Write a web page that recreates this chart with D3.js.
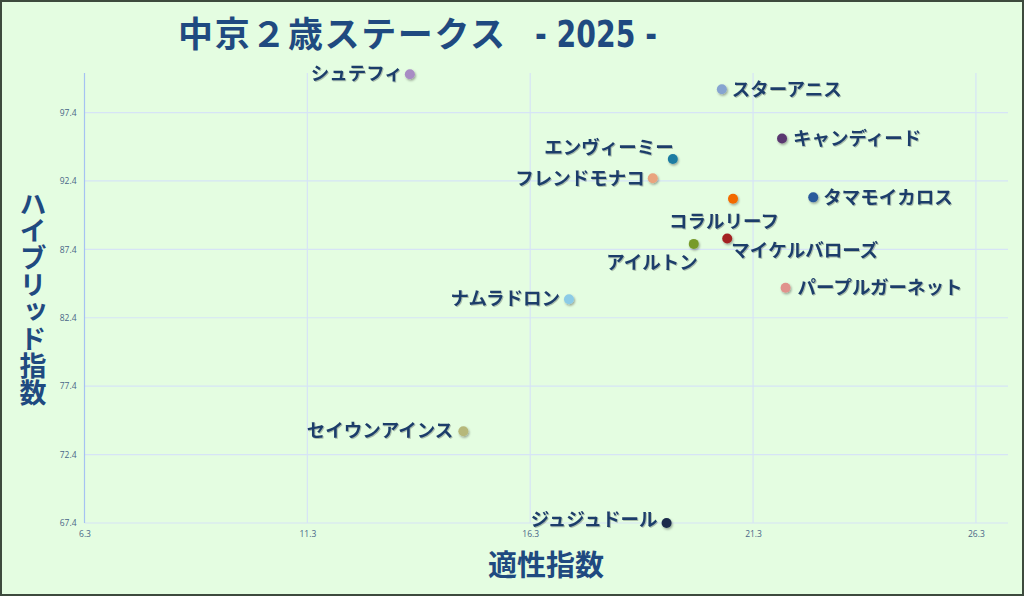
<!DOCTYPE html>
<html>
<head>
<meta charset="utf-8">
<script src="https://cdn.jsdelivr.net/npm/d3@7"></script>
<style>
  html, body { margin: 0; padding: 0; background: #e4fde1; }
  svg { display: block; }
</style>
</head>
<body>
<div id="chart"></div>
<script>
// Horse names, fitness index (x) and hybrid index (y)
var horses = ["シュテフィ", "スターアニス", "キャンディード", "エンヴィーミー", "フレンドモナコ",
  "コラルリーフ", "タマモイカロス", "マイケルバローズ", "アイルトン", "パープルガーネット",
  "ナムラドロン", "セイウンアインス", "ジュジュドール"];
var fitness = [13.6, 20.6, 21.95, 19.5, 19.05, 20.85, 22.65, 20.72, 19.97, 22.03, 17.17, 14.8, 19.36];
var hybrid = [100.2, 99.1, 95.5, 94.0, 92.6, 91.1, 91.2, 88.2, 87.8, 84.6, 83.75, 74.1, 67.4];
var xTicks = [6.3, 11.3, 16.3, 21.3, 26.3];
var yTicks = [67.4, 72.4, 77.4, 82.4, 87.4, 92.4, 97.4];

// label placement next to each dot: [anchor, dx, dy]
var labelPlace = [["end", -7, -1], ["start", 10, 0], ["start", 11, 0], ["end", 1, -12], ["end", -8, 0],
  ["middle", -9, 23], ["start", 10, 0], ["start", 4, 12], ["end", 4, 18], ["start", 12, 0],
  ["end", -9, -1], ["end", -10, -1], ["end", -9, -4]];
var colors = ["#a88cc4", "#86a4d0", "#5a3770", "#1e7ca2", "#e9a47e",
  "#f26a00", "#2b5a9c", "#a32222", "#789a2c", "#e0928c",
  "#8ccbe6", "#b6b87a", "#1b2c4c"];

var svgWidth = 1024;
var svgHeight = 596;
var margin = { top: 73, right: 16, bottom: 73, left: 84.5 };
var width = svgWidth - margin.left - margin.right;
var height = svgHeight - margin.top - margin.bottom;

var svg = d3.select("#chart")
  .append("svg")
  .attr("width", svgWidth)
  .attr("height", svgHeight);

var defs = svg.append("defs");
var shadow = defs.append("filter").attr("id", "shadow")
  .attr("x", "-50%").attr("y", "-50%").attr("width", "200%").attr("height", "200%");
shadow.append("feDropShadow")
  .attr("dx", 1).attr("dy", 1.5).attr("stdDeviation", 1.2)
  .attr("flood-color", "#000").attr("flood-opacity", 0.35);
var tshadow = defs.append("filter").attr("id", "tshadow");
tshadow.append("feDropShadow")
  .attr("dx", 1).attr("dy", 1).attr("stdDeviation", 0.6)
  .attr("flood-color", "#000").attr("flood-opacity", 0.25);

// background and frame
svg.append("rect")
  .attr("x", 1).attr("y", 1)
  .attr("width", svgWidth - 2).attr("height", svgHeight - 2)
  .attr("fill", "#e4fde1")
  .attr("stroke", "#3d4a3d")
  .attr("stroke-width", 2);

var chartGroup = svg.append("g")
  .attr("transform", `translate(${margin.left}, ${margin.top})`);

var xScale = d3.scaleLinear()
  .domain([6.3, 27.02])
  .range([0, width]);

var yScale = d3.scaleLinear()
  .domain([67.4, 100.29])
  .range([height, 0]);

// grid lines
chartGroup.append("g")
  .selectAll("line")
  .data(yTicks)
  .enter()
  .append("line")
  .attr("x1", 0).attr("x2", width)
  .attr("y1", d => yScale(d)).attr("y2", d => yScale(d))
  .attr("stroke", "#d6e4f6")
  .attr("stroke-width", 1.2);

chartGroup.append("g")
  .selectAll("line")
  .data(xTicks.slice(1))
  .enter()
  .append("line")
  .attr("x1", d => xScale(d)).attr("x2", d => xScale(d))
  .attr("y1", 0).attr("y2", height)
  .attr("stroke", "#d6e4f6")
  .attr("stroke-width", 1.2);

// axes
var bottomAxis = d3.axisBottom(xScale).tickValues(xTicks).tickSize(0).tickFormat(d3.format(".1f"));
var leftAxis = d3.axisLeft(yScale).tickValues(yTicks).tickSize(0).tickFormat(d3.format(".1f"));

var gx = chartGroup.append("g")
  .attr("transform", `translate(0, ${height})`)
  .call(bottomAxis);
gx.select(".domain").remove();
gx.selectAll("text")
  .attr("dy", "1.35em")
  .style("font-family", "'Open Sans', sans-serif")
  .style("font-size", "8.5px")
  .style("fill", "#4a6688");

var gy = chartGroup.append("g")
  .call(leftAxis);
gy.select(".domain").remove();
gy.selectAll("text")
  .attr("x", -8)
  .style("font-family", "'Open Sans', sans-serif")
  .style("font-size", "8.5px")
  .style("fill", "#4a6688");

chartGroup.append("line")
  .attr("x1", 0).attr("x2", 0)
  .attr("y1", 0).attr("y2", height)
  .attr("stroke", "#a6c2f2")
  .attr("stroke-width", 1.2);

// points
var rows = horses.map((name, i) => ({
  name: name, x: fitness[i], y: hybrid[i], place: labelPlace[i], color: colors[i]
}));

chartGroup.selectAll("circle")
  .data(rows)
  .enter()
  .append("circle")
  .attr("cx", d => xScale(d.x))
  .attr("cy", d => yScale(d.y))
  .attr("r", 5)
  .attr("fill", d => d.color)
  .attr("filter", "url(#shadow)");

// labels
chartGroup.selectAll(".lbl")
  .data(rows)
  .enter()
  .append("text")
  .attr("class", "lbl")
  .attr("x", d => xScale(d.x) + d.place[1])
  .attr("y", d => yScale(d.y) + d.place[2])
  .attr("dy", "0.36em")
  .attr("text-anchor", d => d.place[0])
  .style("font-family", "'Noto Sans CJK JP', sans-serif")
  .style("font-weight", "bold")
  .style("font-size", "18.5px")
  .style("fill", "#1f3e6b")
  .attr("filter", "url(#tshadow)")
  .text(d => d.name);

// title
svg.append("text")
  .attr("x", 178)
  .attr("y", 47)
  .attr("textLength", 327)
  .attr("lengthAdjust", "spacing")
  .style("font-family", "'Noto Sans CJK JP', sans-serif")
  .style("font-weight", "bold")
  .style("font-size", "35px")
  .style("fill", "#1f4a80")
  .text("中京２歳ステークス");

svg.append("text")
  .attr("x", 535)
  .attr("y", 47)
  .attr("textLength", 122)
  .attr("lengthAdjust", "spacingAndGlyphs")
  .style("font-family", "'DejaVu Sans Condensed', sans-serif")
  .style("font-weight", "bold")
  .style("font-size", "38px")
  .style("fill", "#1f4a80")
  .attr("xml:space", "preserve")
  .text("- 2025 -");

// axis titles
svg.append("text")
  .attr("x", 546)
  .attr("y", 576)
  .attr("text-anchor", "middle")
  .style("font-family", "'Noto Sans CJK JP', sans-serif")
  .style("font-weight", "bold")
  .style("font-size", "29px")
  .style("fill", "#1f4a80")
  .text("適性指数");

svg.append("text")
  .attr("x", 33)
  .attr("y", 190)
  .style("writing-mode", "vertical-rl")
  .style("text-orientation", "upright")
  .style("font-family", "'Noto Sans CJK JP', sans-serif")
  .style("font-weight", "bold")
  .style("font-size", "27px")
  .style("fill", "#1f4a80")
  .text("ハイブリッド指数");
</script>
</body>
</html>
